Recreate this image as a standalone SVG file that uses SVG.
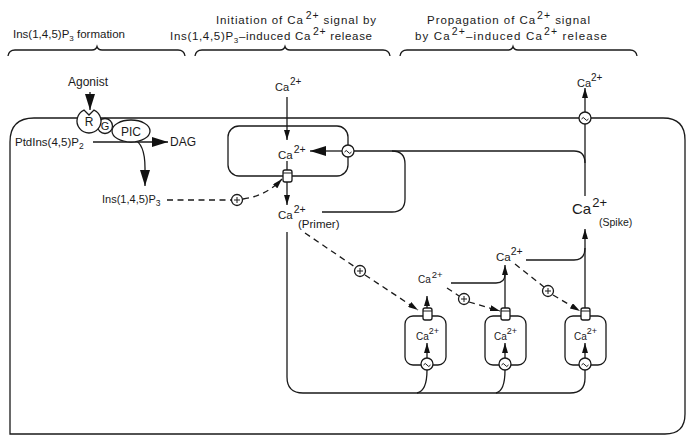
<svg xmlns="http://www.w3.org/2000/svg" width="697" height="443" viewBox="0 0 697 443">
<style>
.ln{fill:none;stroke:#1a1a1a;stroke-width:1.3}
.dash{stroke-dasharray:6 4.5}
.nd{fill:#fff;stroke:#1a1a1a;stroke-width:1.3}
.t{font-family:"Liberation Sans",Arial,Helvetica,sans-serif;fill:#1a1a1a}
.sym{fill:none;stroke:#1a1a1a;stroke-width:1}
</style>
<defs>
<marker id="big" viewBox="0 0 16 10" refX="16" refY="5" markerWidth="16" markerHeight="10" markerUnits="userSpaceOnUse" orient="auto"><path d="M0,0 L16,5 L0,10 z" fill="#111"/></marker>
<marker id="sm" viewBox="0 0 10 6" refX="10" refY="3" markerWidth="10" markerHeight="6" markerUnits="userSpaceOnUse" orient="auto"><path d="M0,0 L10,3 L0,6 z" fill="#111"/></marker>
<g id="tilde"><circle r="6" class="nd"/><path d="M-3.5,1 q1.75,-3 3.5,0 t3.5,0" class="sym"/></g>
<g id="plus"><circle r="5.5" class="nd"/><path d="M-3,0 H3 M0,-3 V3" class="sym"/></g>
</defs>
<rect width="697" height="443" fill="#fff"/>

<g id="headers">
<text class="t" font-size="11.5" x="13" y="38" textLength="112" lengthAdjust="spacingAndGlyphs">Ins(1,4,5)P<tspan dy="3" font-size="8">3</tspan><tspan dy="-3"> formation</tspan></text>
<text class="t" font-size="11.5" x="216" y="24" textLength="160" lengthAdjust="spacing">Initiation of Ca<tspan dx="2" dy="-5" font-size="10.5">2+</tspan><tspan dy="5"> signal by</tspan></text>
<text class="t" font-size="11.5" x="170" y="40" textLength="202" lengthAdjust="spacing">Ins(1,4,5)P<tspan dy="3" font-size="8">3</tspan><tspan dy="-3">–induced Ca</tspan><tspan dx="2" dy="-5" font-size="10.5">2+</tspan><tspan dy="5"> release</tspan></text>
<text class="t" font-size="11.5" x="427" y="24" textLength="163" lengthAdjust="spacing">Propagation of Ca<tspan dx="1" dy="-5" font-size="10.5">2+</tspan><tspan dy="5"> signal</tspan></text>
<text class="t" font-size="11.5" x="415" y="40" textLength="192" lengthAdjust="spacing">by Ca<tspan dx="1" dy="-5" font-size="10.5">2+</tspan><tspan dy="5">–induced Ca</tspan><tspan dx="1" dy="-5" font-size="10.5">2+</tspan><tspan dy="5"> release</tspan></text>
<path class="ln" d="M8,56 Q9,50 15,50 L92,50 Q96,50 97,46.5 Q98,50 102,50 L178,50 Q184,50 185,56"/>
<path class="ln" d="M195,56 Q196,50 202,50 L280,50 Q284,50 285,46.5 Q286,50 290,50 L383,50 Q389,50 390,56"/>
<path class="ln" d="M400,56 Q401,50 407,50 L508,50 Q512,50 513,46.5 Q514,50 518,50 L630,50 Q636,50 637,56"/>
</g>

<g id="membrane">
<path class="ln" d="M10,434 L10,142 Q10,118 34,118 L663,118 Q685,118 685,140 L685,414 Q685,434 665,434 Z"/>
</g>

<g id="er-main"><rect class="ln" x="228" y="126" width="120" height="50" rx="11"/></g>
<g id="er-1"><rect class="ln" x="405" y="316" width="41" height="49" rx="8"/></g>
<g id="er-2"><rect class="ln" x="485" y="316" width="41" height="49" rx="8"/></g>
<g id="er-3"><rect class="ln" x="565" y="316" width="41" height="49" rx="8"/></g>

<g id="connectors">
<path class="ln" d="M90,92 L90,110" stroke-width="3" marker-end="url(#big)"/>
<path class="ln" d="M93,142 L168,142" marker-end="url(#big)"/>
<path class="ln" d="M133,139 Q145,143 145,168 L145,186" marker-end="url(#big)"/>
<path class="ln" d="M287,97 L287,140" marker-end="url(#sm)"/>
<path class="ln" d="M342,151 L310,151" marker-end="url(#big)"/>
<path class="ln" d="M287,161 L287,170"/>
<path class="ln" d="M287,182 L287,205" marker-end="url(#sm)"/>
<path class="ln dash" d="M167,200 L231,200"/>
<path class="ln dash" d="M243,199 Q266,196 282,179" marker-end="url(#sm)"/>
<path class="ln" d="M354,151 L574,151 Q585,151 585,163"/>
<path class="ln" d="M322,212 L392,212 Q405,212 405,199 L405,164 Q405,151 392,151"/>
<path class="ln" d="M585,112 L585,88" marker-end="url(#sm)"/>
<path class="ln" d="M585,124 L585,196"/>
<path class="ln" d="M287,232 L287,377 Q287,393 303,393 L570,393 Q585,393 585,378 L585,370"/>
<path class="ln" d="M417,393 Q427,391 427,370"/>
<path class="ln" d="M496,393 Q505,391 505,370"/>
<path class="ln" d="M427,308 L427,296" marker-end="url(#sm)"/>
<path class="ln" d="M505,308 L505,265" marker-end="url(#sm)"/>
<path class="ln" d="M585,308 L585,229" marker-end="url(#sm)" stroke-width="1.7"/>
<path class="ln" d="M451,283 L496,283 Q505,283 505,274"/>
<path class="ln" d="M526,260 L574,260 Q585,260 585,248"/>
<path class="ln" d="M427,358 L427,343" marker-end="url(#sm)"/>
<path class="ln" d="M505,358 L505,343" marker-end="url(#sm)"/>
<path class="ln" d="M585,358 L585,343" marker-end="url(#sm)"/>
<path class="ln dash" d="M305,233 L355,267"/>
<path class="ln dash" d="M365,275 L418,310" marker-end="url(#sm)"/>
<path class="ln dash" d="M447,288 L459,296"/>
<path class="ln dash" d="M469,302 L500,311" marker-end="url(#sm)"/>
<path class="ln dash" d="M515,264 L544,287"/>
<path class="ln dash" d="M553,295 L580,311" marker-end="url(#sm)"/>
</g>

<g id="pump-er"><use href="#tilde" x="348" y="151"/></g>
<g id="pump-pm"><use href="#tilde" x="585" y="118"/></g>
<g id="pump-1"><use href="#tilde" x="427" y="364"/></g>
<g id="pump-2"><use href="#tilde" x="505" y="364"/></g>
<g id="pump-3"><use href="#tilde" x="585" y="364"/></g>
<g id="plus-ip3"><use href="#plus" x="237" y="200"/></g>
<g id="plus-1"><use href="#plus" x="360" y="271"/></g>
<g id="plus-2"><use href="#plus" x="464" y="299"/></g>
<g id="plus-3"><use href="#plus" x="548" y="291"/></g>

<g id="channel-er"><rect class="nd" x="283" y="170" width="9" height="12" rx="2"/><path class="sym" d="M283,173 H292"/></g>
<g id="channel-1"><rect class="nd" x="423" y="308" width="9" height="12" rx="2"/><path class="sym" d="M423,311 H432"/></g>
<g id="channel-2"><rect class="nd" x="501" y="308" width="9" height="12" rx="2"/><path class="sym" d="M501,311 H510"/></g>
<g id="channel-3"><rect class="nd" x="581" y="308" width="9" height="12" rx="2"/><path class="sym" d="M581,311 H590"/></g>

<g id="pic"><ellipse class="nd" cx="131" cy="131" rx="19" ry="11"/><text class="t" x="131" y="135.5" text-anchor="middle" font-size="12">PIC</text></g>
<g id="g-protein"><circle class="nd" cx="105" cy="126" r="7.5"/><text class="t" x="105" y="130" text-anchor="middle" font-size="11">G</text></g>
<g id="receptor"><path class="nd" d="M94,110.1 A12,12 0 1 1 84,110.1 L89,115 Z"/><text class="t" x="89" y="126" text-anchor="middle" font-size="12">R</text></g>

<g id="agonist"><text class="t" x="68" y="86" font-size="12">Agonist</text></g>
<g id="ptdins"><text class="t" x="15" y="146" font-size="11.5">PtdIns(4,5)P<tspan dy="3" font-size="8.5">2</tspan></text></g>
<g id="dag"><text class="t" x="170" y="146" font-size="12">DAG</text></g>
<g id="ip3"><text class="t" x="102" y="203" font-size="11">Ins(1,4,5)P<tspan dy="3" font-size="8.5">3</tspan></text></g>
<g id="ca-top"><text class="t" x="275" y="91" font-size="11">Ca<tspan dx="1" dy="-6" font-size="10">2+</tspan></text></g>
<g id="ca-er"><text class="t" x="278" y="159" font-size="11.5">Ca<tspan dx="1" dy="-6" font-size="10.5">2+</tspan></text></g>
<g id="ca-primer"><text class="t" x="278" y="219" font-size="11.5">Ca<tspan dx="1" dy="-6" font-size="10.5">2+</tspan></text><text class="t" x="298" y="228" font-size="11.5">(Primer)</text></g>
<g id="ca-out"><text class="t" x="577" y="87" font-size="11">Ca<tspan dy="-6" font-size="10">2+</tspan></text></g>
<g id="ca-spike"><text class="t" x="572" y="214" font-size="15">Ca<tspan dx="1" dy="-7" font-size="13">2+</tspan></text><text class="t" x="599" y="226" font-size="10.5">(Spike)</text></g>
<g id="ca-mid"><text class="t" x="496" y="261" font-size="11.5">Ca<tspan dy="-6" font-size="10.5">2+</tspan></text></g>
<g id="ca-small"><text class="t" x="418" y="283" font-size="10">Ca<tspan dx="1" dy="-5" font-size="9.5">2+</tspan></text></g>
<g id="ca-er1"><text class="t" x="416" y="340" font-size="10">Ca<tspan dy="-6" font-size="9">2+</tspan></text></g>
<g id="ca-er2"><text class="t" x="494" y="340" font-size="10">Ca<tspan dy="-6" font-size="9">2+</tspan></text></g>
<g id="ca-er3"><text class="t" x="574" y="340" font-size="10">Ca<tspan dy="-6" font-size="9">2+</tspan></text></g>
</svg>
